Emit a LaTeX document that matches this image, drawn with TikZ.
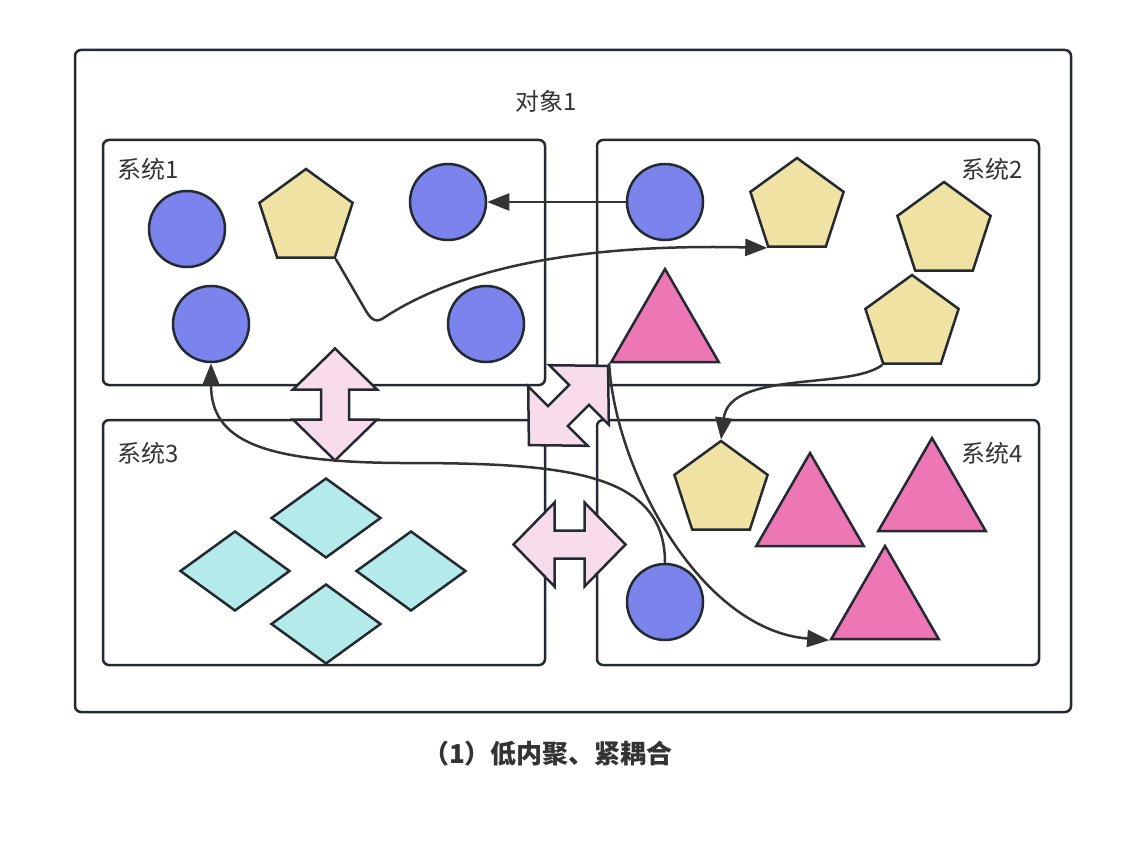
\documentclass[tikz,border=0pt]{standalone}
\usepackage{fontspec}
\newfontfamily\cjk{Noto Sans CJK SC}
\usepackage{tikz}
\usetikzlibrary{arrows.meta}
\usetikzlibrary{shapes.geometric}
\definecolor{edge}{RGB}{35,42,49}
\definecolor{ink}{RGB}{51,51,51}
\definecolor{blueball}{RGB}{122,132,236}
\definecolor{penta}{RGB}{240,226,162}
\definecolor{trifill}{RGB}{236,119,180}
\definecolor{diafill}{RGB}{181,234,234}
\definecolor{arrowfill}{RGB}{249,220,235}
\tikzset{frame/.style = {draw=edge, line width=2.5pt, rounded corners=6pt, inner sep=0}}
\tikzset{ball/.style = {circle, draw=edge, line width=2.5pt, fill=blueball, inner sep=0, minimum size=76}}
\tikzset{pent/.style = {regular polygon, regular polygon sides=5, draw=edge, line width=2.5pt, fill=penta, inner sep=0, minimum size=98}}
\tikzset{tri/.style = {regular polygon, regular polygon sides=3, draw=edge, line width=2.5pt, fill=trifill, inner sep=0, minimum size=124}}
\tikzset{dia/.style = {diamond, draw=edge, line width=2.5pt, fill=diafill, inner sep=0, minimum width=110, minimum height=80}}
\tikzset{lbl/.style = {font=\cjk\fontsize{24}{28}\selectfont, text=ink, inner sep=0}}
\tikzset{conn/.style = {draw=ink, line width=2.5pt, -{Triangle[length=22pt, width=17pt]}}}
\tikzset{dblarrow/.pic = {\draw [draw=edge, line width=2.5pt, fill=arrowfill]
      (0, -56) -- (42, -15) -- (14, -15) -- (14, 15) -- (42, 15) -- (0, 56)
      -- (-42, 15) -- (-14, 15) -- (-14, -15) -- (-42, -15) -- cycle;}}

\begin{document}
\begin{tikzpicture}[x=1pt, y=-1pt]
      \useasboundingbox (0, 0) rectangle (1139, 842);

      \node (obj) at (573, 381) [frame, minimum width=996, minimum height=662] {};
      \node (objlbl) at (546, 101) [lbl] {对象1};

      \node (sys1) at (324, 262.5) [frame, minimum width=442, minimum height=245] {};
      \node (sys2) at (818, 262.5) [frame, minimum width=442, minimum height=245] {};
      \node (sys3) at (324, 542.5) [frame, minimum width=442, minimum height=245] {};
      \node (sys4) at (818, 542.5) [frame, minimum width=442, minimum height=245] {};
      \node (sys1lbl) at (117, 169) [lbl, anchor=west] {系统1};
      \node (sys2lbl) at (1023, 169) [lbl, anchor=east] {系统2};
      \node (sys3lbl) at (117, 453) [lbl, anchor=west] {系统3};
      \node (sys4lbl) at (1023, 453) [lbl, anchor=east] {系统4};

      \node (c1) at (187, 229) [ball] {};
      \node (c2) at (448, 202) [ball] {};
      \node (c3) at (211, 324) [ball] {};
      \node (c4) at (486, 324) [ball] {};
      \node (c5) at (665, 202) [ball] {};
      \node (c6) at (665, 602) [ball] {};

      \node (p1) at (306, 218) [pent] {};
      \node (p2) at (797, 207) [pent] {};
      \node (p3) at (944, 231) [pent] {};
      \node (p4) at (912, 324) [pent] {};
      \node (p5) at (721, 490) [pent] {};

      \node (t1) at (665, 331) [tri] {};
      \node (t2) at (810, 515) [tri] {};
      \node (t3) at (932, 500) [tri] {};
      \node (t4) at (885, 608) [tri] {};

      \node (d1) at (326, 518) [dia] {};
      \node (d2) at (235, 571) [dia] {};
      \node (d3) at (411, 571) [dia] {};
      \node (d4) at (326, 624) [dia] {};

      \pic (vlink) at (335, 404.5) {dblarrow};
      \pic [rotate=90] (hlink) at (569.5, 544.5) {dblarrow};
      \pic [rotate=-45] (dlink) at (568.5, 405.5) {dblarrow};

      \draw [conn] (c5.west) -- (c2.east);
      \draw [conn] (p1.corner 4) -- (366, 311) .. controls (372, 321) and (377, 323) .. (385, 317)
            .. controls (470, 262) and (600, 244) .. (p2.corner 3);
      \draw [conn] (p4.corner 3) .. controls (850, 390) and (730, 370) .. (p5.corner 1);
      \draw [conn] (c6.north) .. controls (665, 470) and (560, 463) .. (400, 463)
            .. controls (260, 462) and (211, 440) .. (c3.south);
      \draw [conn] (t1.corner 2) .. controls (615, 470) and (700, 630) .. (t4.corner 2);

      \node (caption) at (548, 754) [lbl, font=\cjk\bfseries\fontsize{26}{30}\selectfont] {（1）低内聚、紧耦合};
    \end{tikzpicture}
\end{document}
